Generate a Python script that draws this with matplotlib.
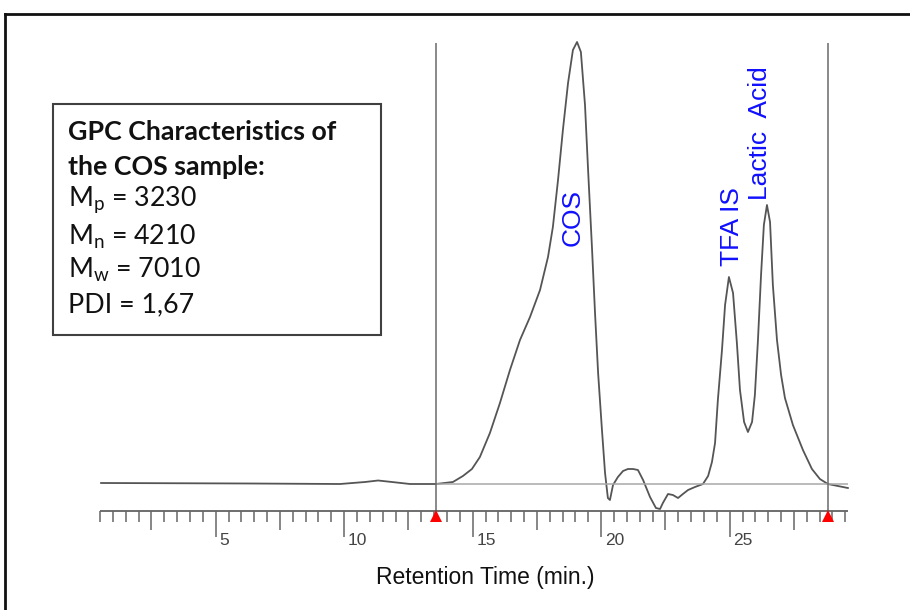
import numpy as np
import matplotlib
matplotlib.use("Agg")
import matplotlib.pyplot as plt
from matplotlib.patches import Rectangle
from matplotlib.lines import Line2D

plt.rcParams["mathtext.fontset"] = "custom"
plt.rcParams["mathtext.rm"] = "Lato"
plt.rcParams["mathtext.it"] = "Lato:italic"
plt.rcParams["mathtext.bf"] = "Lato:bold"

# GPC trace: retention time (min) and detector response (a.u.)
time_min = [0.54, 6.33, 9.84, 10.81, 11.32, 11.86, 12.56, 13.57, 14.23, 14.62,
            14.97, 15.28, 15.67, 16.06, 16.45, 16.84, 17.23, 17.62, 17.93, 18.12,
            18.32, 18.51, 18.71, 18.90, 19.06, 19.21, 19.37, 19.49, 19.64, 19.76,
            19.88, 20.03, 20.15, 20.26, 20.34, 20.46, 20.65, 20.85, 21.04, 21.24,
            21.43, 21.63, 21.90, 22.13, 22.29, 22.40, 22.60, 22.79, 22.99, 23.18,
            23.38, 23.65, 23.96, 24.16, 24.31, 24.43, 24.54, 24.70, 24.82, 24.97,
            25.13, 25.28, 25.40, 25.56, 25.71, 25.87, 25.98, 26.10, 26.22, 26.33,
            26.45, 26.57, 26.68, 26.84, 27.00, 27.15, 27.46, 27.85, 28.20, 28.51,
            28.82, 29.21, 29.60]
response = [0, -0.5, -1, 1, 2.5, 1, -1, -1, 1, 7,
            14, 26, 50, 80, 113, 143, 166, 193, 226, 256,
            303, 353, 400, 433, 441, 431, 378, 313, 236, 170,
            110, 53, 10, -15, -17, -2, 6, 12, 14, 14,
            13, 3, -14, -25, -26, -20, -11, -12, -15, -11,
            -7, -4, -1, 7, 21, 40, 83, 133, 178, 206,
            190, 140, 93, 61, 51, 61, 88, 143, 208, 258,
            278, 261, 198, 143, 108, 85, 58, 33, 14, 4,
            -1, -3, -5]

# integration limits and baseline
limits_min = [13.57, 28.82]
baseline_level = -1
baseline_end = 29.60

# time axis
tick_start, tick_stop = 0.5, 29.5
label_ticks = [5, 10, 15, 20, 25]

# peak labels
peak_names = ["COS", "TFA IS", "Lactic  Acid"]
peak_label_t = [18.90, 25.09, 26.19]
peak_label_y = [265, 256, 350]

info_lines = [r"GPC Characteristics of", r"the COS sample:",
              r"M$_\mathrm{p}$ = 3230", r"M$_\mathrm{n}$ = 4210",
              r"M$_\mathrm{w}$ = 7010", r"PDI = 1,67"]
info_bold = [True, True, False, False, False, False]

fig = plt.figure(figsize=(9.1, 6.1), dpi=100)
ax = fig.add_axes([0, 0, 1, 1])
ax.set_xlim(-3.393, 32.016)
ax.set_ylim(-127, 483)
ax.axis("off")

# chromatogram
ax.plot(time_min, response, color="#555555", lw=1.3, solid_joinstyle="round")

# baseline and integration limits
ax.hlines(baseline_level, limits_min[0], baseline_end, color="#a8a8a8", lw=1.1)
ax.vlines(limits_min, -28, 440, color="#6a6a6a", lw=1.1)

# ruler-style time axis
ruler_y = -28
ax.hlines(ruler_y, tick_start, tick_stop + 0.1, color="#555555", lw=1.2)
ticks = np.arange(tick_start, tick_stop + 0.01, 0.5)
for t in ticks:
    if abs(t / 5 - round(t / 5)) < 1e-6:
        length = 26
    elif abs(t / 2.5 - round(t / 2.5)) < 1e-6:
        length = 19
    else:
        length = 11
    ax.vlines(t, ruler_y - length, ruler_y, color="#666666", lw=1.1)
for t in label_ticks:
    ax.text(t + 0.15, -57.5, str(t), ha="left", va="center", fontsize=12.5,
            color="#444444", family=["Liberation Sans"])

ax.plot(limits_min, [-33, -33], linestyle="none", marker="^", markersize=8.6,
        color="#ff0000", markeredgewidth=0)

ax.text(0.533, 0.0525, "Retention Time (min.)", transform=ax.transAxes,
        ha="center", va="center", fontsize=16.5, color="#111111",
        family=["Liberation Sans"])

for name, tx, ty in zip(peak_names, peak_label_t, peak_label_y):
    ax.text(tx, ty, name, rotation=90, ha="center", va="center", fontsize=19,
            color="#1010ff", family=["Liberation Sans"])

# info box
ax.add_patch(Rectangle((0.0582, 0.4508), 0.3604, 0.3787, transform=ax.transAxes,
                       facecolor="white", edgecolor="#404040", lw=1.5, zorder=3))
line_y = [0.7836, 0.7262, 0.6721, 0.6115, 0.5574, 0.5]
for txt, yy, bold in zip(info_lines, line_y, info_bold):
    ax.text(0.0747, yy, txt, transform=ax.transAxes, ha="left", va="center",
            fontsize=19.3, fontweight="bold" if bold else "normal",
            color="#111111", family=["Lato"], zorder=4)

# outer frame (top and left edges)
fig.add_artist(Line2D([5 / 910, 1], [1 - 14 / 610, 1 - 14 / 610],
                      transform=fig.transFigure, color="#111111", lw=2))
fig.add_artist(Line2D([5 / 910, 5 / 910], [0, 1 - 14 / 610],
                      transform=fig.transFigure, color="#111111", lw=2))

fig.savefig("out.png", dpi=100)
